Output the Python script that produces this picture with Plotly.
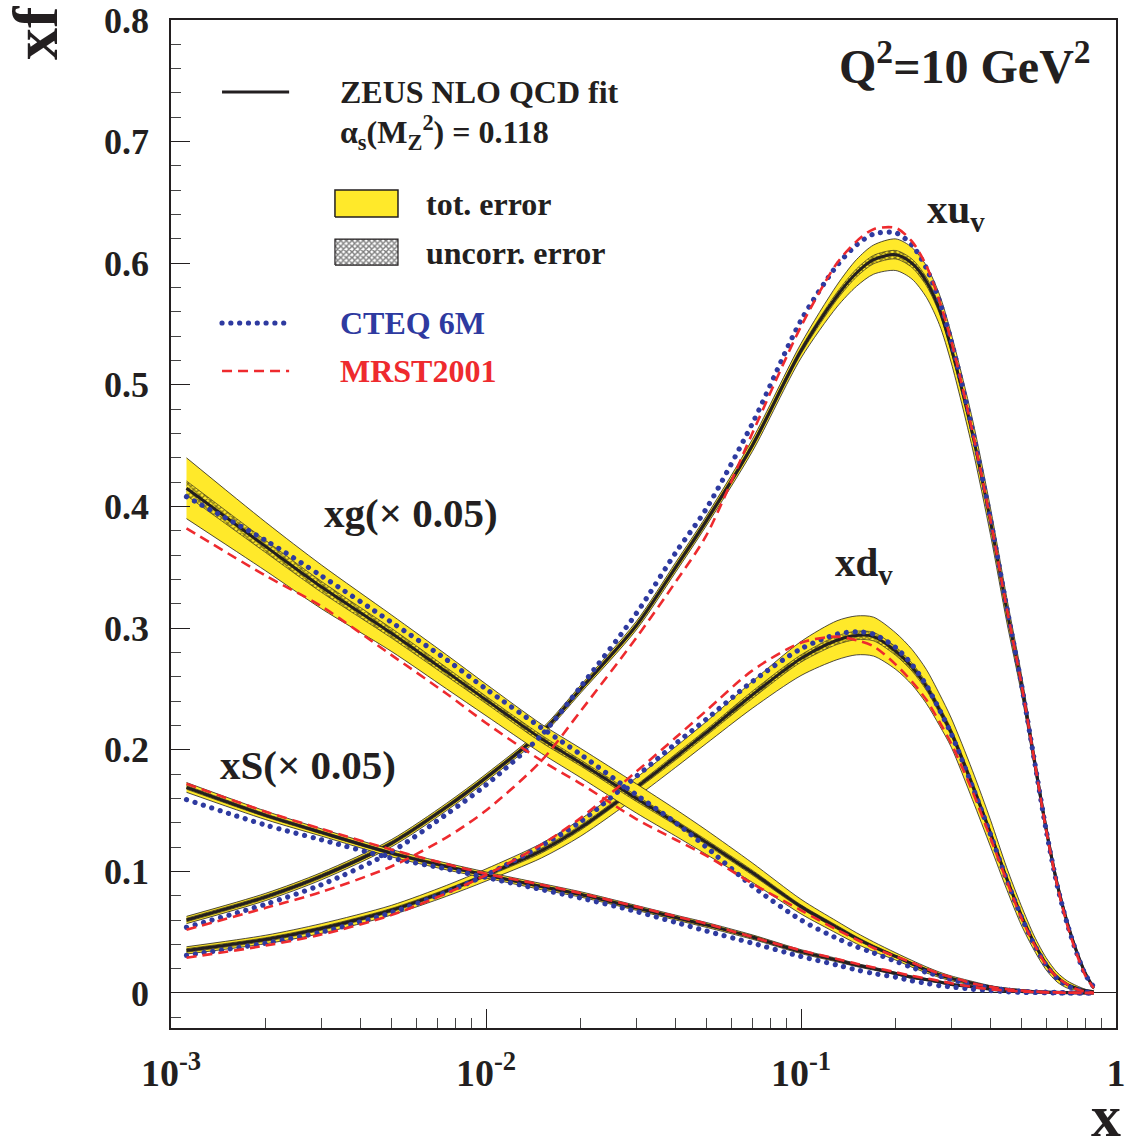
import plotly.graph_objects as go

# ---------------- data ----------------
X = [0.00112, 0.002, 0.003, 0.005, 0.0075, 0.01, 0.015, 0.02, 0.03, 0.04, 0.05, 0.07, 0.1, 0.13,
     0.15, 0.17, 0.2, 0.225, 0.25, 0.275, 0.3,
     0.35, 0.4, 0.45, 0.5, 0.55, 0.6, 0.65, 0.7, 0.75, 0.8, 0.85]

# ZEUS NLO QCD fit central values
XUV = [0.060, 0.079, 0.096, 0.123, 0.153, 0.177, 0.214, 0.250, 0.302, 0.350, 0.388, 0.450, 0.528, 0.573,
       0.592, 0.603, 0.607, 0.600, 0.585, 0.562, 0.530,
       0.460, 0.387, 0.315, 0.255, 0.192, 0.135, 0.090, 0.058, 0.034, 0.016, 0.004]
XDV = [0.035, 0.044, 0.053, 0.068, 0.084, 0.097, 0.117, 0.136, 0.169, 0.194, 0.214, 0.245, 0.275, 0.290,
       0.294, 0.293, 0.281, 0.268, 0.252, 0.233, 0.214,
       0.171, 0.131, 0.094, 0.064, 0.041, 0.024, 0.013, 0.007, 0.004, 0.002, 0.001]
XG = [0.415, 0.367, 0.334, 0.296, 0.264, 0.241, 0.209, 0.189, 0.160, 0.140, 0.124, 0.099, 0.071, 0.054,
      0.045, 0.038, 0.030, 0.024, 0.019, 0.015, 0.012,
      0.008, 0.005, 0.003, 0.002, 0.0012, 0.0008, 0.0005, 0.0003, 0.0002, 0.0001, 0.0]
XS = [0.169, 0.146, 0.132, 0.115, 0.104, 0.097, 0.0875, 0.081, 0.070, 0.062, 0.056, 0.046, 0.034, 0.027,
      0.023, 0.020, 0.016, 0.013, 0.011, 0.009, 0.007,
      0.005, 0.003, 0.002, 0.0012, 0.0008, 0.0005, 0.0003, 0.0002, 0.0001, 0.0, 0.0]

# total error (half width)
XUV_TOT = [0.003, 0.003, 0.003, 0.003, 0.003, 0.003, 0.003, 0.0032, 0.0035, 0.004, 0.004, 0.005, 0.006, 0.009,
           0.011, 0.012, 0.013, 0.013, 0.013, 0.0125, 0.012,
           0.012, 0.011, 0.010, 0.008, 0.006, 0.005, 0.004, 0.003, 0.002, 0.0015, 0.001]
XDV_TOT = [0.003, 0.0035, 0.004, 0.004, 0.0045, 0.005, 0.006, 0.007, 0.008, 0.0085, 0.009, 0.011, 0.014, 0.016,
           0.016, 0.016, 0.015, 0.0145, 0.014, 0.013, 0.012,
           0.012, 0.011, 0.009, 0.008, 0.006, 0.005, 0.004, 0.003, 0.002, 0.001, 0.0005]
XG_TOT = [0.025, 0.020, 0.018, 0.015, 0.014, 0.013, 0.012, 0.012, 0.012, 0.011, 0.010, 0.008, 0.006, 0.005,
          0.0045, 0.004, 0.003, 0.0028, 0.0025, 0.0022, 0.002,
          0.0015, 0.001, 0.001, 0.0008, 0.0006, 0.0005, 0.0004, 0.0003, 0.0002, 0.0001, 0.0001]
XS_TOT = [0.004, 0.0035, 0.003, 0.003, 0.0028, 0.0025, 0.0025, 0.0022, 0.002, 0.002, 0.002, 0.0018, 0.0016, 0.0014,
          0.0013, 0.0012, 0.001, 0.001, 0.0009, 0.0008, 0.0008,
          0.0006, 0.0005, 0.0004, 0.0003, 0.0002, 0.0002, 0.0001, 0.0001, 0.0001, 0.0, 0.0]

# uncorrelated error (half width)
XUV_UNC = [0.0015, 0.0015, 0.0015, 0.0015, 0.0015, 0.0015, 0.0015, 0.0015, 0.0015, 0.0018, 0.002, 0.002, 0.0025, 0.003,
           0.0033, 0.0035, 0.0035, 0.0035, 0.0035, 0.0032, 0.003,
           0.003, 0.003, 0.0025, 0.002, 0.002, 0.0015, 0.0012, 0.001, 0.0008, 0.0005, 0.0003]
XDV_UNC = [0.0015, 0.0015, 0.0015, 0.0015, 0.0015, 0.0015, 0.002, 0.002, 0.002, 0.0025, 0.0025, 0.003, 0.003, 0.0035,
           0.0035, 0.0035, 0.0035, 0.0033, 0.003, 0.003, 0.003,
           0.003, 0.0025, 0.002, 0.002, 0.0015, 0.0012, 0.001, 0.0008, 0.0005, 0.0003, 0.0002]
XG_UNC = [0.006, 0.005, 0.0045, 0.004, 0.0035, 0.003, 0.003, 0.0025, 0.0025, 0.002, 0.002, 0.002, 0.0015, 0.0015,
          0.0013, 0.0012, 0.001, 0.001, 0.001, 0.0009, 0.0008,
          0.0006, 0.0005, 0.0004, 0.0003, 0.0002, 0.0002, 0.0001, 0.0001, 0.0001, 0.0, 0.0]
XS_UNC = [0.0015, 0.0013, 0.0012, 0.0012, 0.0011, 0.001, 0.001, 0.001, 0.0009, 0.0008, 0.0008, 0.0007, 0.0006, 0.0005,
          0.0005, 0.0005, 0.0004, 0.0004, 0.0004, 0.0003, 0.0003,
          0.0003, 0.0002, 0.0002, 0.0001, 0.0001, 0.0001, 0.0, 0.0, 0.0, 0.0, 0.0]

# CTEQ 6M
XUV_C = [0.054, 0.073, 0.089, 0.116, 0.147, 0.171, 0.212, 0.252, 0.312, 0.362, 0.398, 0.468, 0.553, 0.598,
         0.615, 0.624, 0.625, 0.615, 0.596, 0.569, 0.536,
         0.463, 0.389, 0.317, 0.255, 0.192, 0.134, 0.089, 0.057, 0.033, 0.015, 0.005]
XDV_C = [0.031, 0.041, 0.050, 0.066, 0.083, 0.097, 0.121, 0.141, 0.178, 0.205, 0.225, 0.256, 0.283, 0.295,
         0.297, 0.295, 0.284, 0.270, 0.253, 0.233, 0.213,
         0.170, 0.130, 0.093, 0.063, 0.040, 0.023, 0.012, 0.006, 0.003, 0.001, 0.0]
XG_C = [0.408, 0.372, 0.343, 0.305, 0.274, 0.250, 0.218, 0.196, 0.163, 0.140, 0.120, 0.088, 0.060, 0.045,
        0.038, 0.033, 0.026, 0.021, 0.017, 0.014, 0.011,
        0.007, 0.004, 0.0025, 0.0015, 0.001, 0.0006, 0.0004, 0.0002, 0.0001, 0.0, 0.0]
XS_C = [0.159, 0.138, 0.126, 0.111, 0.102, 0.095, 0.085, 0.078, 0.067, 0.058, 0.051, 0.041, 0.030, 0.023,
        0.019, 0.016, 0.013, 0.010, 0.008, 0.006, 0.005,
        0.003, 0.002, 0.001, 0.0006, 0.0004, 0.0002, 0.0001, 0.0, 0.0, 0.0, 0.0]

# MRST2001
XUV_M = [0.052, 0.070, 0.083, 0.104, 0.128, 0.150, 0.191, 0.232, 0.292, 0.338, 0.376, 0.460, 0.548, 0.600,
         0.618, 0.628, 0.629, 0.618, 0.598, 0.569, 0.536,
         0.462, 0.388, 0.316, 0.255, 0.192, 0.134, 0.089, 0.056, 0.032, 0.014, 0.004]
XDV_M = [0.029, 0.039, 0.048, 0.064, 0.082, 0.097, 0.122, 0.144, 0.182, 0.210, 0.232, 0.265, 0.288, 0.293,
         0.290, 0.285, 0.270, 0.256, 0.241, 0.223, 0.205,
         0.166, 0.127, 0.092, 0.062, 0.040, 0.023, 0.013, 0.007, 0.003, 0.001, 0.0]
XG_M = [0.382, 0.343, 0.318, 0.278, 0.246, 0.222, 0.191, 0.172, 0.143, 0.126, 0.113, 0.090, 0.068, 0.052,
        0.044, 0.037, 0.030, 0.025, 0.020, 0.016, 0.013,
        0.008, 0.005, 0.003, 0.002, 0.0012, 0.0008, 0.0005, 0.0003, 0.0002, 0.0001, 0.0]
XS_M = [0.172, 0.149, 0.135, 0.118, 0.106, 0.098, 0.089, 0.082, 0.071, 0.063, 0.057, 0.046, 0.035, 0.028,
        0.024, 0.021, 0.017, 0.014, 0.012, 0.010, 0.008,
        0.005, 0.003, 0.002, 0.0012, 0.0008, 0.0005, 0.0003, 0.0002, 0.0001, 0.0, 0.0]

Y_TICKS = [0, 0.1, 0.2, 0.3, 0.4, 0.5, 0.6, 0.7, 0.8]
Y_TICKTEXT = ["0", "0.1", "0.2", "0.3", "0.4", "0.5", "0.6", "0.7", "0.8"]
X_TICKS = [0.001, 0.01, 0.1, 1]
X_TICKTEXT = ["10<sup>-3</sup>", "10<sup>-2</sup>", "10<sup>-1</sup>", "1"]
X_MINOR = [m * d for d in (0.001, 0.01, 0.1) for m in range(2, 10)]

# ---------------- styles ----------------
FONT = "Liberation Serif"
INK = "#231f20"
YEL = "#FFE92A"
BLUE = "rgb(46,58,160)"
RED = "#EE2A2E"
SPL = dict(shape="spline", smoothing=0.8)

fig = go.Figure()


def add_band(center, half, fillcolor, pattern=None, edge=0.8):
    lo = [c - h for c, h in zip(center, half)]
    hi = [c + h for c, h in zip(center, half)]
    fig.add_trace(go.Scatter(x=X, y=lo, mode="lines", line=dict(color=INK, width=edge, **SPL),
                             showlegend=False, hoverinfo="skip"))
    kw = dict(fill="tonexty", fillcolor=fillcolor)
    if pattern:
        kw["fillpattern"] = pattern
    fig.add_trace(go.Scatter(x=X, y=hi, mode="lines", line=dict(color=INK, width=edge, **SPL),
                             showlegend=False, hoverinfo="skip", **kw))


HATCH = dict(shape="x", fgcolor="#000000", bgcolor=YEL, size=4, solidity=0.55)

for cen, tot, unc in [(XUV, XUV_TOT, XUV_UNC), (XDV, XDV_TOT, XDV_UNC),
                      (XG, XG_TOT, XG_UNC), (XS, XS_TOT, XS_UNC)]:
    add_band(cen, tot, YEL)
    add_band(cen, unc, YEL, pattern=HATCH, edge=0.6)
    fig.add_trace(go.Scatter(x=X, y=cen, mode="lines", line=dict(color=INK, width=3, **SPL),
                             showlegend=False, hoverinfo="skip"))

for c in [XUV_C, XDV_C, XG_C, XS_C]:
    fig.add_trace(go.Scatter(x=X, y=c, mode="lines",
                             line=dict(color=BLUE, width=5.2, dash="4.5px,4.5px", **SPL),
                             showlegend=False, hoverinfo="skip"))
for m in [XUV_M, XDV_M, XG_M, XS_M]:
    fig.add_trace(go.Scatter(x=X, y=m, mode="lines",
                             line=dict(color=RED, width=2.6, dash="10px,6px", **SPL),
                             showlegend=False, hoverinfo="skip"))

# ---------------- custom legend (overlay axis in 0..1 frame coordinates) ----------------
def lg(x, y, **kw):
    fig.add_trace(go.Scatter(x=x, y=y, xaxis="x2", yaxis="y2", showlegend=False, hoverinfo="skip", **kw))

lg([0.054, 0.125], [0.9286, 0.9286], mode="lines", line=dict(color=INK, width=3))
lg([0.1735, 0.2402, 0.2402, 0.1735, 0.1735], [0.8046, 0.8046, 0.8313, 0.8313, 0.8046], mode="lines",
   fill="toself", fillcolor=YEL, line=dict(color=INK, width=1.5))
lg([0.1735, 0.2402, 0.2402, 0.1735, 0.1735], [0.7569, 0.7569, 0.7827, 0.7827, 0.7569], mode="lines",
   fill="toself", fillcolor="white",
   fillpattern=dict(shape="x", fgcolor="#000000", bgcolor="white", size=4, solidity=0.6),
   line=dict(color=INK, width=1.2))
lg([0.054, 0.125], [0.6994, 0.6994], mode="lines", line=dict(color=BLUE, width=5.2, dash="4.5px,4.5px"))
lg([0.054, 0.125], [0.6518, 0.6518], mode="lines", line=dict(color=RED, width=2.6, dash="10px,6px"))


def txt(x, y, s, size, color=INK, xanchor="left", yanchor="middle", angle=0, bold=True):
    fig.add_annotation(x=x, y=y, xref="paper", yref="paper", text=s, showarrow=False,
                       xanchor=xanchor, yanchor=yanchor, textangle=angle,
                       font=dict(family=FONT, size=size, color=color, weight="bold" if bold else "normal"))


txt(0.1767, 0.9286, "ZEUS NLO QCD fit", 32)
txt(0.1767, 0.8879, "α<sub>s</sub>(M<sub>Z</sub><sup>2</sup>) = 0.118", 32)
txt(0.2677, 0.8175, "tot. error", 32)
txt(0.2677, 0.7688, "uncorr. error", 32)
txt(0.1767, 0.6994, "CTEQ 6M", 32, color=BLUE)
txt(0.1767, 0.6518, "MRST2001", 32, color=RED)

txt(0.9757, 0.957, "Q<sup>2</sup>=10 GeV<sup>2</sup>", 48, xanchor="right")
txt((925 - 171) / 945, (1028 - 212) / 1008, "xu<sub>v</sub>", 41)
txt((833 - 171) / 945, (1028 - 565) / 1008, "xd<sub>v</sub>", 41)
txt((322 - 171) / 945, (1028 - 513) / 1008, "xg(× 0.05)", 41)
txt((218 - 171) / 945, (1028 - 765) / 1008, "xS(× 0.05)", 41)

# axis titles
txt((36 - 171) / 945, (1028 - 33) / 1008, "xf", 64, xanchor="center", angle=-90)
txt((1106 - 171) / 945, (1028 - 1081) / 1008, "x", 60, xanchor="center", yanchor="top")

fig.update_layout(
    width=1126, height=1139, autosize=False,
    margin=dict(l=171, r=10, t=20, b=111, pad=0),
    paper_bgcolor="white", plot_bgcolor="white",
    font=dict(family=FONT, color=INK),
    xaxis=dict(type="log", range=[-3, 0], showgrid=False, zeroline=False, automargin=False,
               showline=True, linecolor=INK, linewidth=1.6, mirror=True,
               ticks="inside", ticklen=19, tickwidth=1.2, tickcolor=INK,
               tickvals=X_TICKS, ticktext=X_TICKTEXT,
               tickfont=dict(family=FONT, size=38, color=INK, weight="bold"),
               ticklabelstandoff=11,
               minor=dict(ticks="inside", ticklen=10, tickwidth=1, tickcolor="#444", tickvals=X_MINOR)),
    yaxis=dict(range=[-0.0288, 0.8], showgrid=False, automargin=False,
               zeroline=True, zerolinecolor=INK, zerolinewidth=1.2,
               showline=True, linecolor=INK, linewidth=1.6, mirror=True,
               ticks="inside", ticklen=19, tickwidth=1.2, tickcolor=INK,
               tickvals=Y_TICKS, ticktext=Y_TICKTEXT,
               tickfont=dict(family=FONT, size=36, color=INK, weight="bold"),
               ticklabelstandoff=13,
               minor=dict(ticks="inside", ticklen=10, tickwidth=1, tickcolor="#444", dtick=0.02, tick0=0)),
    xaxis2=dict(overlaying="x", range=[0, 1], visible=False, anchor="y2", fixedrange=True, automargin=False),
    yaxis2=dict(overlaying="y", range=[0, 1], visible=False, anchor="x2", fixedrange=True, automargin=False),
)

POST = """
document.documentElement.style.margin = '0';
document.documentElement.style.padding = '0';
document.body.style.margin = '0';
document.body.style.padding = '0';
document.body.style.overflow = 'hidden';
var gd = document.getElementById('{plot_id}');
function roundDots(){
  document.querySelectorAll('path.js-line').forEach(function(p){
    var s = (p.style.stroke || '').replace(/\\s/g, '');
    if (s === 'rgb(46,58,160)') {
      p.style.strokeLinecap = 'round';
      p.style.strokeDasharray = '0.01px,8.8px';
    }
  });
}
roundDots();
if (gd && gd.on) { gd.on('plotly_afterplot', roundDots); }
"""

fig.write_html("out.html", post_script=POST, config={"displayModeBar": False})
